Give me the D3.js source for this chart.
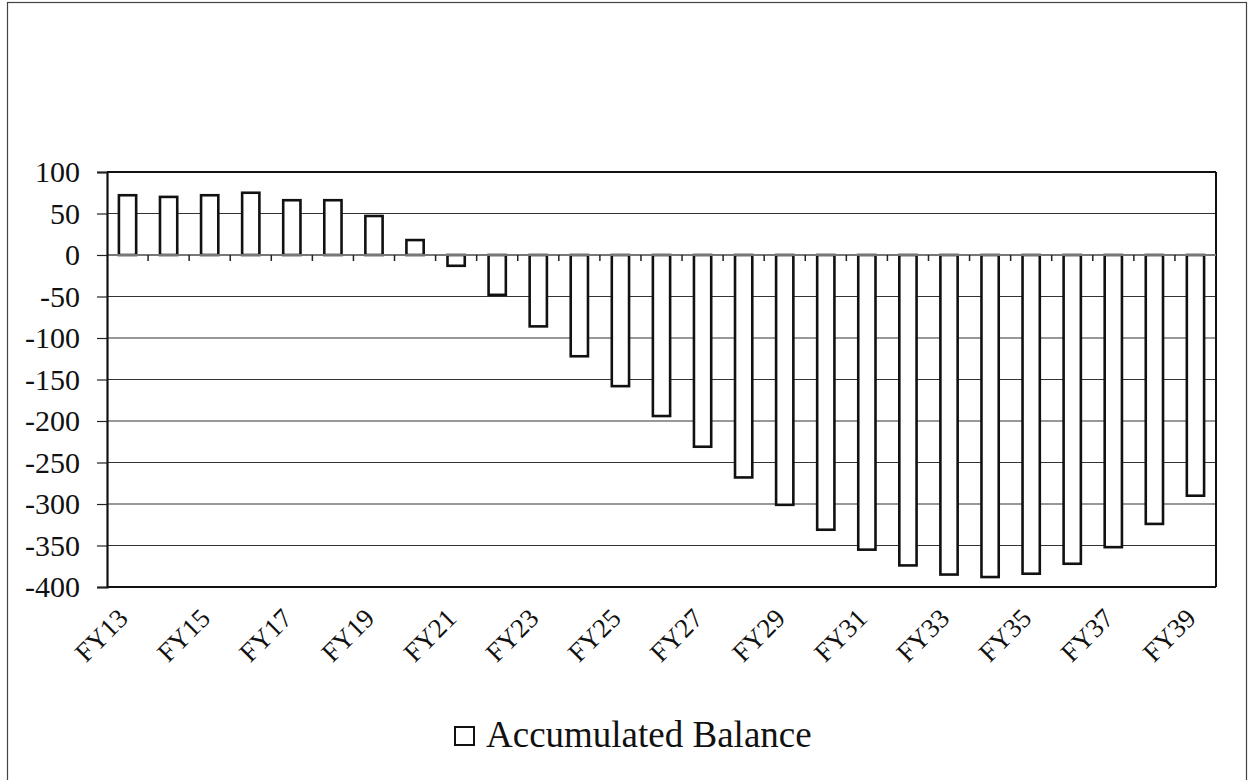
<!DOCTYPE html>
<html>
<head>
<meta charset="utf-8">
<script src="https://cdn.jsdelivr.net/npm/d3@7"></script>
<style>
  body { margin: 0; background: #fff; }
  text { font-family: "Liberation Serif", "Times New Roman", serif; fill: #111; }
</style>
</head>
<body>
<svg id="chart" width="1248" height="780"></svg>
<script>
// fiscal years, one bar each
var years = ["FY13","FY14","FY15","FY16","FY17","FY18","FY19","FY20","FY21","FY22",
             "FY23","FY24","FY25","FY26","FY27","FY28","FY29","FY30","FY31","FY32",
             "FY33","FY34","FY35","FY36","FY37","FY38","FY39"];
// accumulated balance
var balance = [72, 70, 72, 75, 66, 66, 47, 18, -13, -48,
               -86, -122, -158, -194, -231, -268, -301, -331, -355, -374,
               -385, -388, -384, -372, -352, -324, -290];
var yTicks = [100, 50, 0, -50, -100, -150, -200, -250, -300, -350, -400];
var xLabels = ["FY13","FY15","FY17","FY19","FY21","FY23","FY25","FY27","FY29",
               "FY31","FY33","FY35","FY37","FY39"];
var seriesName = "Accumulated Balance";

var svg = d3.select("#chart");
// note: "top" is taken by window.top, so use other names
var plotL = 107, plotR = 1216, plotT = 172, plotB = 587;

// outer chart frame
svg.append("rect")
    .attr("x", 7.5).attr("y", 2.5)
    .attr("width", 1239).attr("height", 800)
    .attr("fill", "none")
    .attr("stroke", "#444")
    .attr("stroke-width", 1.2);

var x = d3.scaleBand()
    .domain(years)
    .range([plotL, plotR])
    .paddingInner(0.58)
    .paddingOuter(0.29);

var y = d3.scaleLinear()
    .domain([-400, 100])
    .range([plotB, plotT]);

// horizontal gridlines
svg.append("g")
    .selectAll("line")
    .data(yTicks.filter(function(d) { return d != 0; }))
    .enter().append("line")
    .attr("x1", plotL).attr("x2", plotR)
    .attr("y1", function(d) { return y(d); })
    .attr("y2", function(d) { return y(d); })
    .attr("stroke", function(d) { return (d == 100 || d == -400) ? "#111" : "#333"; })
    .attr("stroke-width", function(d) { return (d == 100 || d == -400) ? 2 : 1.2; });

// right edge of the plot box
svg.append("line")
    .attr("x1", plotR).attr("x2", plotR)
    .attr("y1", y(100)).attr("y2", y(-400))
    .attr("stroke", "#111").attr("stroke-width", 2);

// bars
svg.append("g")
    .selectAll("rect")
    .data(balance)
    .enter().append("rect")
    .attr("x", function(d, i) { return x(years[i]); })
    .attr("width", x.bandwidth())
    .attr("y", function(d) { return y(Math.max(d, 0)); })
    .attr("height", function(d) { return Math.abs(y(d) - y(0)); })
    .attr("fill", "#fff")
    .attr("stroke", "#111")
    .attr("stroke-width", 2.6);

// category axis sits on zero
svg.append("line")
    .attr("x1", plotL).attr("x2", plotR)
    .attr("y1", y(0)).attr("y2", y(0))
    .attr("stroke", "#777").attr("stroke-width", 2);
svg.append("g")
    .selectAll("line")
    .data(d3.range(1, years.length))
    .enter().append("line")
    .attr("x1", function(i) { return plotL + x.step() * i; })
    .attr("x2", function(i) { return plotL + x.step() * i; })
    .attr("y1", y(0)).attr("y2", y(0) + 6)
    .attr("stroke", "#222").attr("stroke-width", 1.5);

// value axis, plain hyphen for the minus sign
var yAxis = svg.append("g")
    .attr("transform", "translate(" + plotL + ",0)")
    .call(d3.axisLeft(y).tickValues(yTicks).tickSize(10).tickPadding(17)
          .tickFormat(function(d) { return String(d); }));
yAxis.select(".domain").attr("stroke", "#111").attr("stroke-width", 2.2);
yAxis.selectAll(".tick line").attr("stroke", "#222").attr("stroke-width", 1.2);
yAxis.selectAll("text")
    .style("font-family", "'Liberation Serif', serif")
    .style("font-size", "30px")
    .attr("fill", "#111");

// rotated year labels, every second year
svg.append("g")
    .selectAll("text")
    .data(xLabels)
    .enter().append("text")
    .attr("text-anchor", "end")
    .attr("transform", function(d) {
        var cx = x(d) + x.bandwidth() / 2 + 2;
        return "translate(" + cx + ",620) rotate(-45)";
    })
    .style("font-size", "27px")
    .text(function(d) { return d; });

// legend
svg.append("rect")
    .attr("x", 455).attr("y", 727)
    .attr("width", 19).attr("height", 18)
    .attr("fill", "#fff")
    .attr("stroke", "#111")
    .attr("stroke-width", 2);
svg.append("text")
    .attr("x", 486).attr("y", 747)
    .style("font-size", "37px")
    .text(seriesName);
</script>
</body>
</html>
